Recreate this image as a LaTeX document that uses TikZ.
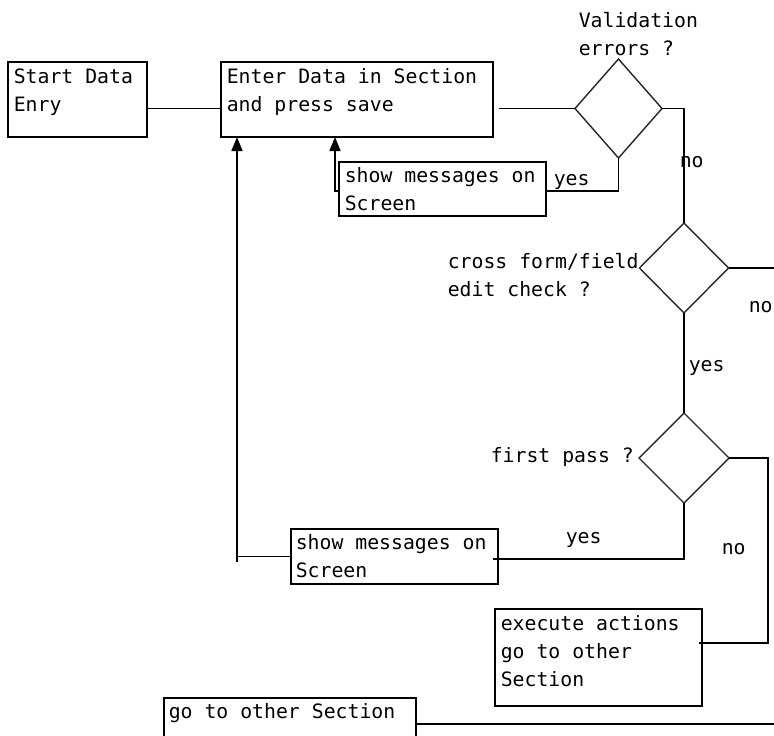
\documentclass[tikz,border=0pt]{standalone}
\usepackage{fontspec}
\newfontfamily\flowmono{DejaVu Sans Mono}
\usetikzlibrary{shapes.geometric,arrows.meta,calc}
\begin{document}
\begin{tikzpicture}[x=1pt,y=-1pt,
  line width=1.6pt,
  box/.style={draw, rectangle, inner sep=0pt, outer sep=0pt, anchor=north west},
  decision/.style={draw, diamond, inner sep=0pt, outer sep=0pt, line width=1.4pt, draw=black!85},
  % anchored at the baseline of the last line
  txt/.style={anchor=base west, inner sep=0pt, align=left,
    font=\fontsize{19.8}{28}\selectfont\flowmono},
  tip/.style={-{Triangle[width=11pt,length=14pt]}}]

% page area
\clip (0,0) rectangle (774,736);
\fill[white] (0,0) rectangle (774,736);

% process boxes
\node[box, minimum width=139pt, minimum height=75pt] (start) at (8,62) {};
\node[box, minimum width=272pt, minimum height=75pt] (enter) at (221,62) {};
\node[box, minimum width=207pt, minimum height=54pt] (msg1) at (339,162) {};
\node[box, minimum width=207pt, minimum height=55pt] (msg2) at (291,529) {};
\node[box, minimum width=207pt, minimum height=97pt] (exec) at (495,609) {};
\node[box, minimum width=252pt, minimum height=60pt] (goto) at (164,698) {};

% decisions
\node[decision, minimum width=87pt, minimum height=99pt] (d1) at (618.5,108.5) {};
\node[decision, minimum width=89pt, minimum height=90pt] (d2) at (684,268) {};
\node[decision, minimum width=90pt, minimum height=90pt] (d3) at (684,458) {};

% box texts
\node[txt] (tstart) at (13,111) {Start Data\\Enry};
\node[txt] (tenter) at (226,111) {Enter Data in Section\\and press save};
\node[txt] (tmsg1) at (344,210) {show messages on\\Screen};
\node[txt] (tmsg2) at (295,577) {show messages on\\Screen};
\node[txt] (texec) at (500,686) {execute actions\\go to other\\Section};
\node[txt] (tgoto) at (168,718) {go to other Section};

% decision texts
\node[txt] (qval) at (578,55) {Validation\\errors ?};
\node[txt] (qcross) at (447,296) {cross form/field\\edit check ?};
\node[txt] (qfirst) at (490,462) {first pass ?};

% branch labels
\node[txt] (no1) at (679,167) {no};
\node[txt] (yes1) at (553,185) {yes};
\node[txt] (no2) at (748,312) {no};
\node[txt] (yes2) at (688,371) {yes};
\node[txt] (yes3) at (565,543) {yes};
\node[txt] (no3) at (721,554) {no};

% helper points
\coordinate (e1) at (499,108.5);
\coordinate (j1) at (335,191);
\coordinate (lstub) at (237,562);
\coordinate (d2out) at (774,268);
\coordinate (rail) at (768,0);
\coordinate (xe) at ($(exec.east)+(-3,-14.5)$);
\coordinate (ms2) at ($(msg2.east)+(-5,2.5)$);
\coordinate (bout) at (774,724);

% connectors
\draw (start.east |- d1.west) -- (enter.west |- d1.west);
\draw (e1) -- (d1.west);
\draw (d1.east) -| (d2.north);
\draw (d1.south) |- (msg1.east |- j1);
\draw[tip] (msg1.west |- j1) -- (j1) -- (enter.south -| j1);
\draw (d2.east) -- (d2out);
\draw (d2.south) -- (d3.north);
\draw (d3.south) |- (ms2);
\draw (msg2.west) -- (msg2.west -| lstub);
\draw[tip] (lstub) -- (enter.south -| lstub);
\draw (d3.east) -| (rail |- xe) -- (xe);
\draw (goto.east |- bout) -- (bout);
\end{tikzpicture}
\end{document}
